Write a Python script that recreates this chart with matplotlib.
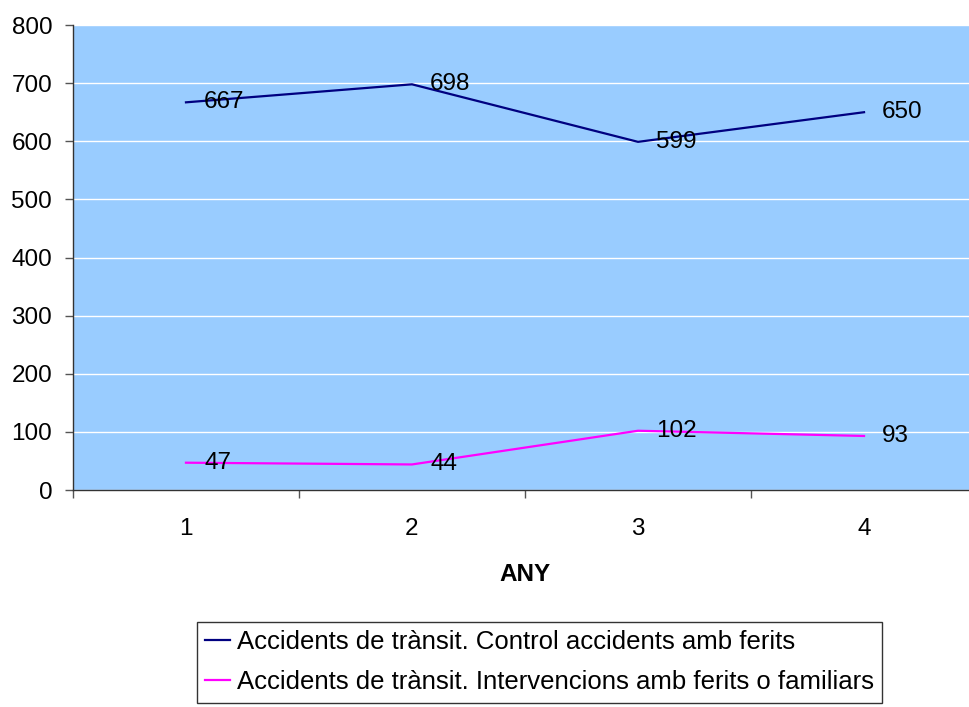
import matplotlib
matplotlib.use('Agg')
import matplotlib.pyplot as plt
from matplotlib.ticker import MultipleLocator, FixedLocator

plt.rcParams['font.family'] = ['Liberation Sans', 'DejaVu Sans']

# data
anys = [1, 2, 3, 4]
control_ferits = [667, 698, 599, 650]
intervencions = [47, 44, 102, 93]
labels = ['Accidents de trànsit. Control accidents amb ferits',
          'Accidents de trànsit. Intervencions amb ferits o familiars']

fs = 17.5

fig = plt.figure(figsize=(9.69, 7.07), dpi=100)
ax = fig.add_axes([0.0753, 0.3069, 0.933, 0.6577])
ax.set_facecolor('#99CCFF')

l1, = ax.plot(anys, control_ferits, color='#000080', lw=1.6, label=labels[0])
l2, = ax.plot(anys, intervencions, color='#FF00FF', lw=1.6, label=labels[1])

# data labels to the right of each point
for xs, ys in [(anys, control_ferits), (anys, intervencions)]:
    for x, y in zip(xs, ys):
        ax.annotate(str(y), (x, y), xytext=(13, 0), textcoords='offset points',
                    ha='left', va='center', fontsize=fs, color='black')

ax.set_xlim(0.5, 4.5)
ax.set_ylim(0, 800)
ax.yaxis.set_major_locator(MultipleLocator(100))
ax.grid(axis='y', color='white', lw=1)
ax.set_axisbelow(True)

ax.set_xticks(anys)
ax.set_xticklabels([str(a) for a in anys])
ax.xaxis.set_minor_locator(FixedLocator([0.5, 1.5, 2.5, 3.5, 4.5]))
ax.tick_params(axis='x', which='major', length=0, pad=20, labelsize=fs)
ax.tick_params(axis='x', which='minor', length=6, width=1, color='#555555')
ax.tick_params(axis='y', length=6, width=1, color='#555555', pad=9, labelsize=fs)

for s in ['top', 'right']:
    ax.spines[s].set_visible(False)
for s in ['left', 'bottom']:
    ax.spines[s].set_color('#333333')
    ax.spines[s].set_linewidth(1)

ax.set_xlabel('ANY', fontsize=fs, fontweight='bold', va='top')
ax.xaxis.set_label_coords(0.5, -0.157)

leg = fig.legend(handles=[l1, l2], loc='upper left',
                 bbox_to_anchor=(0.2033, 0.1202), fontsize=18.5,
                 frameon=True, fancybox=False, shadow=False, framealpha=1,
                 edgecolor='#333333', handlelength=0.97, handletextpad=0.27,
                 borderpad=0.32, labelspacing=0.63, borderaxespad=0)
leg.get_frame().set_linewidth(1)

fig.savefig('out.png', dpi=100)
